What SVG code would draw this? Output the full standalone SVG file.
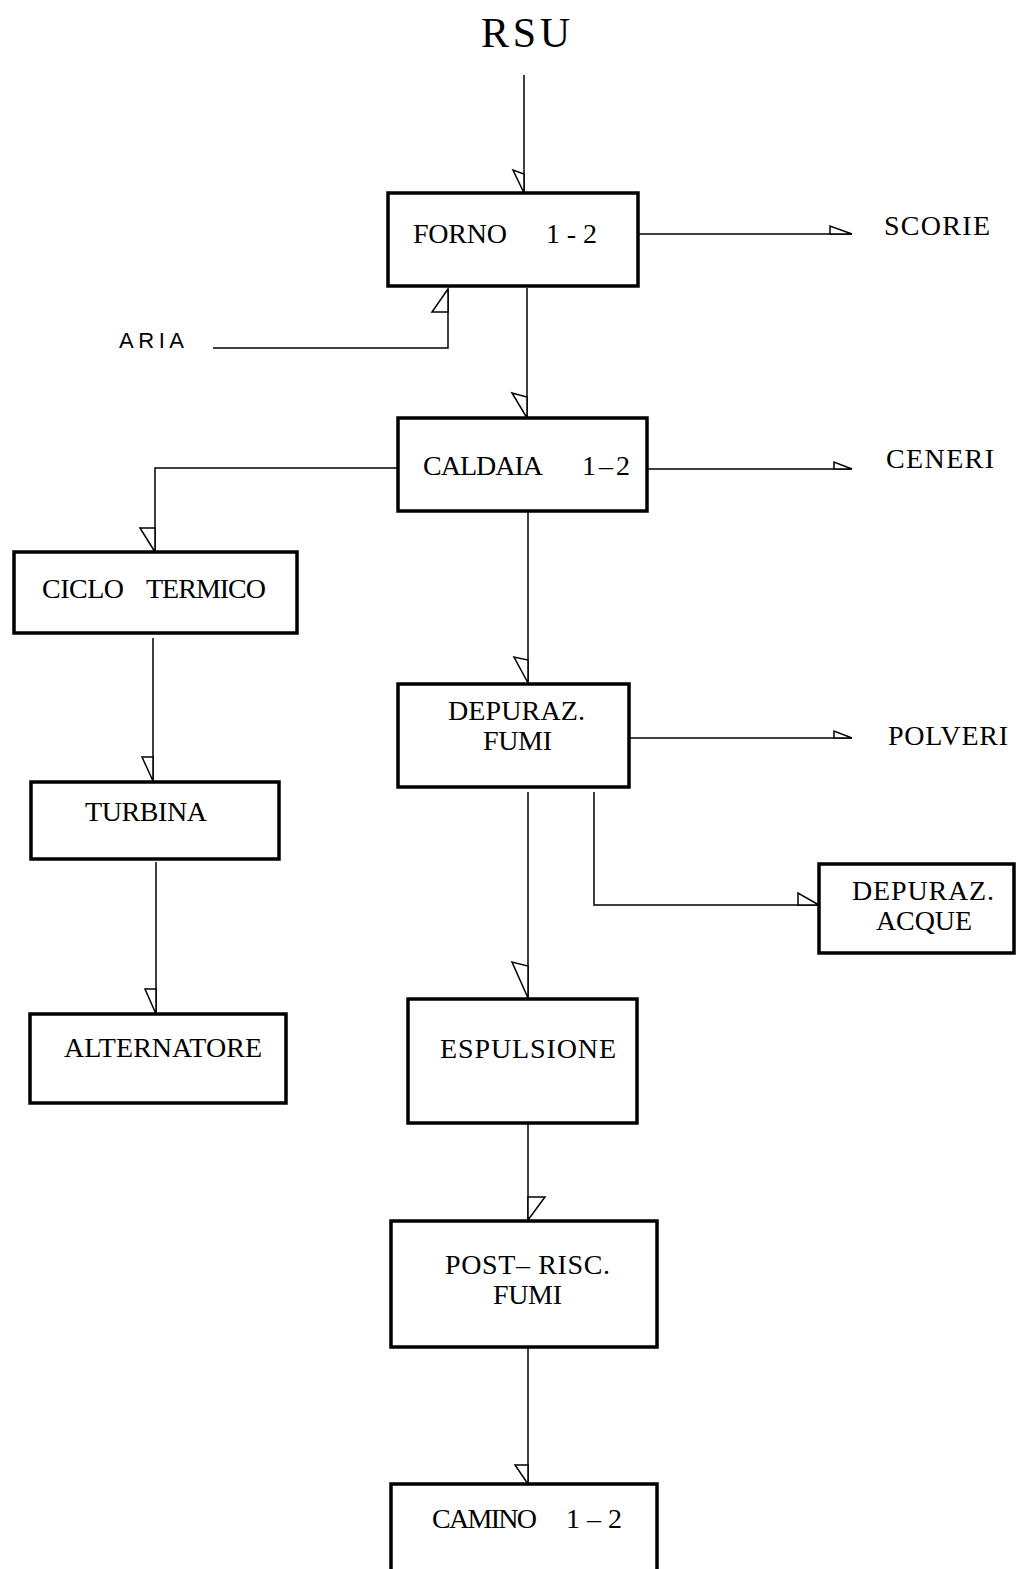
<svg xmlns="http://www.w3.org/2000/svg" width="1017" height="1569" viewBox="0 0 1017 1569">
<style>
.box{fill:#fff;stroke:#000;stroke-width:3.5}
.t{font-family:"Liberation Serif",serif;font-size:28px;fill:#000}
.ln{fill:none;stroke:#000;stroke-width:1.5}
.ah{fill:#fff;stroke:#000;stroke-width:1.5;stroke-linejoin:miter}
</style>
<rect width="1017" height="1569" fill="#fff"/>
<text x="481" y="47" class="t" style="font-size:42px" textLength="89" lengthAdjust="spacing">RSU</text>
<text x="119" y="348" style="font-family:'Liberation Sans',sans-serif;font-size:22px;fill:#000" textLength="65" lengthAdjust="spacing">ARIA</text>
<text x="884" y="235" class="t" textLength="106" lengthAdjust="spacing">SCORIE</text>
<text x="886" y="468" class="t" textLength="108" lengthAdjust="spacing">CENERI</text>
<text x="888" y="745" class="t" textLength="120" lengthAdjust="spacing">POLVERI</text>
<g id="connectors">
<path class="ln" d="M524 75V193"/><path class="ah" d="M524 193L513 170L524 174Z"/>
<path class="ln" d="M638 234H852"/><path class="ah" d="M852 234L830 226L830 234Z"/>
<path class="ln" d="M213 348H448V289"/><path class="ah" d="M448 289L432 312H448Z"/>
<path class="ln" d="M527 288V418"/><path class="ah" d="M527 418L512 393L527 397Z"/>
<path class="ln" d="M647 469H852"/><path class="ah" d="M852 469L834 462L834 469Z"/>
<path class="ln" d="M398 468H155V552"/><path class="ah" d="M155 552L140 528H155Z"/>
<path class="ln" d="M153 638V781"/><path class="ah" d="M153 781L142 757H153Z"/>
<path class="ln" d="M156 862V1014"/><path class="ah" d="M156 1014L145 989H156Z"/>
<path class="ln" d="M528 511V683"/><path class="ah" d="M528 683L514 657L528 660Z"/>
<path class="ln" d="M629 738H852"/><path class="ah" d="M852 738L834 731L834 738Z"/>
<path class="ln" d="M594 792V905H819"/><path class="ah" d="M819 905L798 893V905Z"/>
<path class="ln" d="M528 792V998"/><path class="ah" d="M528 998L512 962L528 966Z"/>
<path class="ln" d="M528 1123V1220"/><path class="ah" d="M528 1220L545 1197H528Z"/>
<path class="ln" d="M528 1347V1484"/><path class="ah" d="M528 1484L515 1465H528Z"/>
</g>
<g id="forno"><rect class="box" x="388" y="193" width="250" height="93"/><text x="413" y="243" class="t" textLength="94" lengthAdjust="spacing">FORNO</text><text x="546" y="243" class="t" textLength="51" lengthAdjust="spacing">1-2</text></g>
<g id="caldaia"><rect class="box" x="398" y="418" width="249" height="93"/><text x="423" y="475" class="t" textLength="120" lengthAdjust="spacing">CALDAIA</text><text x="582" y="475" class="t" textLength="48" lengthAdjust="spacing">1–2</text></g>
<g id="ciclo"><rect class="box" x="14" y="552" width="283" height="81"/><text x="42" y="598" class="t" textLength="82" lengthAdjust="spacing">CICLO</text><text x="146" y="598" class="t" textLength="120" lengthAdjust="spacing">TERMICO</text></g>
<g id="turbina"><rect class="box" x="31" y="782" width="248" height="77"/><text x="85" y="821" class="t" textLength="122" lengthAdjust="spacing">TURBINA</text></g>
<g id="alternatore"><rect class="box" x="30" y="1014" width="256" height="89"/><text x="64" y="1057" class="t" textLength="198" lengthAdjust="spacing">ALTERNATORE</text></g>
<g id="depfumi"><rect class="box" x="398" y="684" width="231" height="103"/><text x="448" y="720" class="t" textLength="137" lengthAdjust="spacing">DEPURAZ.</text><text x="483" y="750" class="t" textLength="69" lengthAdjust="spacing">FUMI</text></g>
<g id="depacque"><rect class="box" x="819" y="864" width="195" height="89"/><text x="852" y="900" class="t" textLength="142" lengthAdjust="spacing">DEPURAZ.</text><text x="876" y="930" class="t" textLength="96" lengthAdjust="spacing">ACQUE</text></g>
<g id="espulsione"><rect class="box" x="408" y="999" width="229" height="124"/><text x="440" y="1058" class="t" textLength="176" lengthAdjust="spacing">ESPULSIONE</text></g>
<g id="postrisc"><rect class="box" x="391" y="1221" width="266" height="126"/><text x="445" y="1274" class="t" textLength="165" lengthAdjust="spacing">POST– RISC.</text><text x="493" y="1304" class="t" textLength="69" lengthAdjust="spacing">FUMI</text></g>
<g id="camino"><rect class="box" x="391" y="1484" width="266" height="95"/><text x="432" y="1528" class="t" textLength="105" lengthAdjust="spacing">CAMINO</text><text x="566" y="1528" class="t" textLength="56" lengthAdjust="spacing">1–2</text></g>
</svg>
